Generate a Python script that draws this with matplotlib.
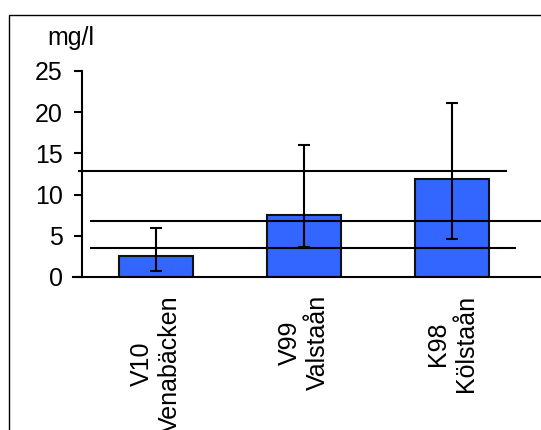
import matplotlib
matplotlib.use("Agg")
from matplotlib import pyplot as plt
from matplotlib.patches import Rectangle

plt.rcParams['font.family'] = ['Liberation Sans', 'DejaVu Sans']

stations = ["V10\nVenabäcken", "V99\nValstaån", "K98\nKölstaån"]
mean_vals = [2.6, 7.5, 11.9]
low_vals = [0.7, 3.6, 4.6]
high_vals = [6.0, 16.0, 21.1]
# reference levels (mg/l) and how far each line runs along the x axis
ref_levels = [12.9, 6.8, 3.5]
ref_spans = [(-0.52, 2.37), (-0.44, 2.9), (-0.44, 2.43)]
yticks = [0, 5, 10, 15, 20, 25]

fig = plt.figure(figsize=(5.41, 4.30), dpi=100)
# outer frame, only its top and left edges fall inside the image
frame_top = 1 - 15/430
fig.patches.append(Rectangle((9/541, -0.2), 1.2, frame_top + 0.2,
                             transform=fig.transFigure, fill=False,
                             edgecolor='black', linewidth=1.0))

ax = fig.add_axes([82/541, 153/430, 488/541, 206/430])

x = list(range(len(stations)))
lower = [m - l for m, l in zip(mean_vals, low_vals)]
upper = [h - m for m, h in zip(mean_vals, high_vals)]

ax.bar(x, mean_vals, width=0.5, color='#3366FF', edgecolor='#111111',
       linewidth=1.5, zorder=2)
for lev, (x0, x1) in zip(ref_levels, ref_spans):
    ax.plot([x0, x1], [lev, lev], color='black', linewidth=1.5, zorder=3,
            clip_on=False)
ax.errorbar(x, mean_vals, yerr=[lower, upper], fmt='none', ecolor='black',
            elinewidth=1.5, capsize=4, capthick=1.5, zorder=4)

ax.set_xlim(-0.5, 2.8)
ax.set_ylim(0, 25)
ax.set_yticks(yticks)
ax.set_xticks(x)
ax.set_xticklabels(stations, rotation=90, ha='center', va='top',
                   multialignment='center', fontsize=18)
ax.tick_params(axis='x', length=0, pad=13)
ax.tick_params(axis='y', length=6, width=1.5, pad=8, labelsize=18)

for side in ['top', 'right']:
    ax.spines[side].set_visible(False)
ax.spines['left'].set_linewidth(1.5)
ax.spines['bottom'].set_linewidth(1.5)
ax.spines['bottom'].set_bounds(-0.56, 2.8)

fig.text(71/541, 1 - 38/430, "mg/l", ha='center', va='center', fontsize=18)

fig.savefig("out.png", dpi=100)
